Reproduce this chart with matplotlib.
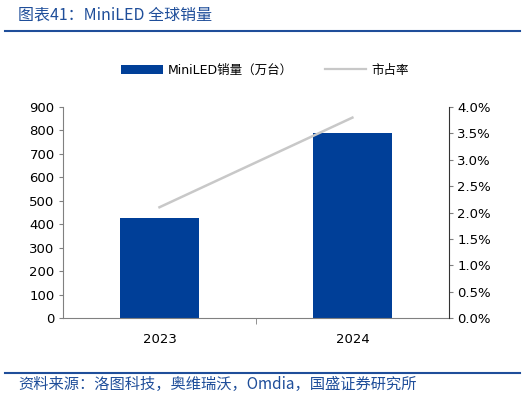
import matplotlib
matplotlib.use("Agg")
import matplotlib.pyplot as plt
from matplotlib.patches import Patch
from matplotlib.lines import Line2D
from matplotlib.ticker import FuncFormatter

plt.rcParams['font.family'] = ['DejaVu Sans', 'Noto Sans CJK SC']

years = ['2023', '2024']
sales = [425, 788]          # 万台
share = [2.1, 3.8]          # %

bar_color = '#003F98'
line_color = '#C8C8C8'
title_color = '#1F4E9A'

fig = plt.figure(figsize=(5.25, 3.98), dpi=100)
ax = fig.add_axes([0.12, 0.201, 0.735, 0.530])

x = list(range(len(years)))
ax.bar(x, sales, width=0.41, color=bar_color, zorder=2)
ax.set_xlim(-0.5, 1.5)
ax.set_ylim(0, 900)
ax.set_yticks(range(0, 901, 100))
ax.set_xticks(x)
ax.set_xticklabels(years)
ax.set_xticks([0.5], minor=True)
ax.tick_params(axis='x', which='major', length=0, pad=11, labelsize=9.5)
ax.tick_params(axis='x', which='minor', length=4, color='#808080')
ax.tick_params(axis='y', length=3, color='#808080', labelsize=9.5, pad=3)
for s in ['top', 'right']:
    ax.spines[s].set_visible(False)
ax.spines['left'].set_color('#808080')
ax.spines['bottom'].set_color('#808080')

ax2 = ax.twinx()
ax2.plot(x, share, color=line_color, lw=1.8, zorder=3)
ax2.set_ylim(0, 4)
ax2.set_yticks([i * 0.5 for i in range(9)])
ax2.yaxis.set_major_formatter(FuncFormatter(lambda v, p: f'{v:.1f}%'))
ax2.tick_params(axis='y', length=3, color='#808080', labelsize=9.5, pad=3)
for s in ['top', 'left', 'bottom']:
    ax2.spines[s].set_visible(False)
ax2.spines['right'].set_color('#333333')

handles = [Patch(facecolor=bar_color, edgecolor='none'),
           Line2D([0], [0], color=line_color, lw=1.6)]
fig.legend(handles, ['MiniLED销量（万台）', '市占率'], loc='center',
           bbox_to_anchor=(0.505, 0.824), ncol=2, frameon=False,
           handlelength=3.3, handleheight=0.75, columnspacing=2.6, handletextpad=0.4,
           prop={'family': ['DejaVu Sans', 'Noto Sans CJK SC'], 'size': 9})

fig.text(0.035, 0.962, '图表41：MiniLED 全球销量', color=title_color, fontsize=11.5,
         style='italic', va='center', family=['Noto Sans CJK SC', 'DejaVu Sans'])
fig.add_artist(Line2D([0.01, 0.99], [0.921, 0.921], color=title_color, lw=1.5))
fig.add_artist(Line2D([0.01, 0.99], [0.062, 0.062], color=title_color, lw=1.5))
fig.text(0.035, 0.033, '资料来源：洛图科技，奥维瑞沃，Omdia，国盛证券研究所', color=title_color,
         fontsize=11, style='italic', va='center', family=['Noto Sans CJK SC', 'DejaVu Sans'])

fig.savefig('out.png', dpi=100)
